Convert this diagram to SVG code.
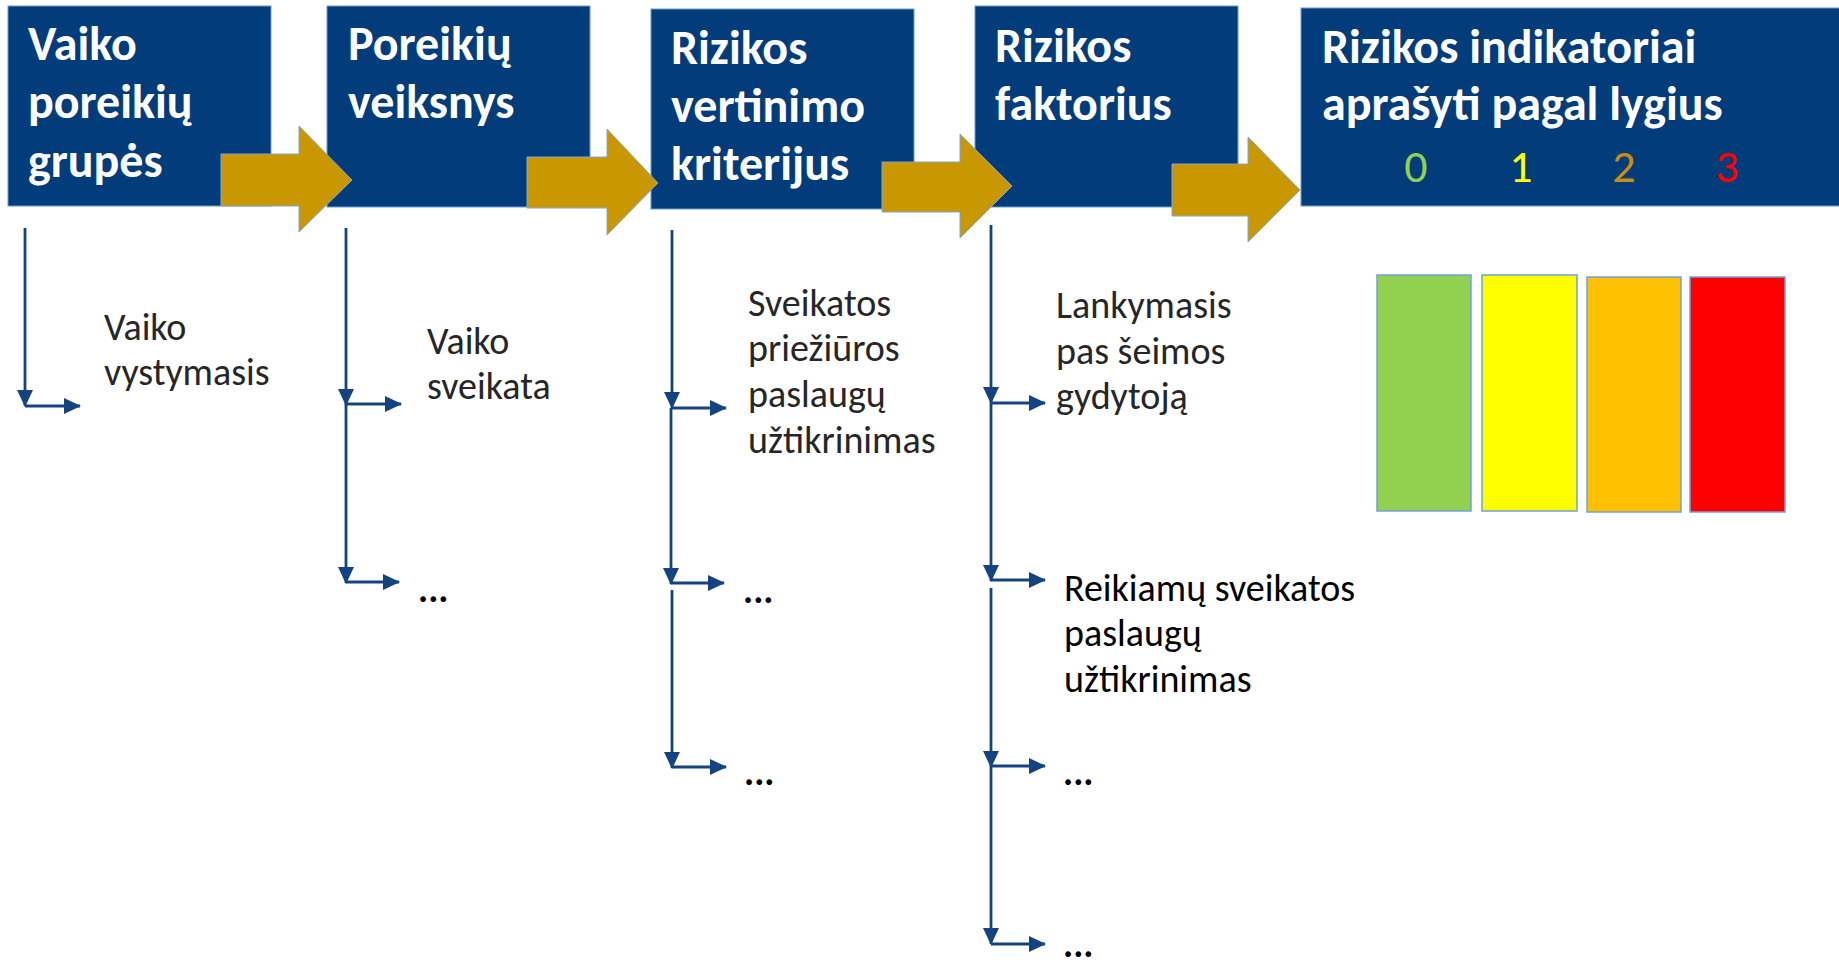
<svg xmlns="http://www.w3.org/2000/svg" width="1839" height="966" viewBox="0 0 1839 966">
<style>
.box{fill:#023C7A;stroke:#6A9AD0;stroke-width:1}
.ttl{font-family:Carlito,Lato,"Liberation Sans",sans-serif;font-weight:bold;font-size:48px;fill:#FFFFFF}
.dig{font-family:Carlito,Lato,"Liberation Sans",sans-serif;font-size:46px}
.lbl{font-family:Carlito,Lato,"Liberation Sans",sans-serif;font-weight:300;font-size:38px;fill:#262626}
.lblr{font-family:Carlito,Lato,"Liberation Sans",sans-serif;font-weight:normal;font-size:38px;fill:#000000}
.dots{font-family:Carlito,Lato,"Liberation Sans",sans-serif;font-weight:bold;font-size:38px;fill:#000000}
.blk{fill:#C99700;stroke:#7FA8D8;stroke-width:1}
.ln{fill:none;stroke:#154382;stroke-width:2.8;marker-end:url(#ah)}
.bar{stroke:#6FA3DA;stroke-width:1.5}
</style>
<defs>
<marker id="ah" markerUnits="userSpaceOnUse" markerWidth="17" markerHeight="16" refX="16" refY="8" orient="auto" viewBox="0 0 17 16">
<path d="M0,0 L17,8 L0,16 Z" fill="#154382"/>
</marker>
</defs>
<rect width="1839" height="966" fill="#FFFFFF"/>

<g id="node-vaiko-poreikiu-grupes">
<rect class="box" x="8" y="6" width="263" height="200"/>
<text class="ttl" x="28" y="60">Vaiko</text>
<text class="ttl" x="28" y="118">poreikių</text>
<text class="ttl" x="28" y="177">grupės</text>
</g>
<g id="node-poreikiu-veiksnys">
<rect class="box" x="327" y="6" width="263" height="201"/>
<text class="ttl" x="348" y="60">Poreikių</text>
<text class="ttl" x="348" y="118">veiksnys</text>
</g>
<g id="node-rizikos-vertinimo-kriterijus">
<rect class="box" x="651" y="9" width="263" height="200"/>
<text class="ttl" x="671" y="64">Rizikos</text>
<text class="ttl" x="671" y="122">vertinimo</text>
<text class="ttl" x="671" y="180">kriterijus</text>
</g>
<g id="node-rizikos-faktorius">
<rect class="box" x="975" y="6" width="263" height="201"/>
<text class="ttl" x="995" y="62">Rizikos</text>
<text class="ttl" x="995" y="120">faktorius</text>
</g>
<g id="node-rizikos-indikatoriai">
<rect class="box" x="1301" y="8" width="545" height="198"/>
<text class="ttl" x="1322" y="63">Rizikos indikatoriai</text>
<text class="ttl" x="1322" y="120">aprašyti pagal lygius</text>
<text class="dig" x="1416" y="182" text-anchor="middle" fill="#92D050">0</text>
<text class="dig" x="1521" y="182" text-anchor="middle" fill="#FFFF00">1</text>
<text class="dig" x="1624" y="182" text-anchor="middle" fill="#C8900A">2</text>
<text class="dig" x="1727" y="182" text-anchor="middle" fill="#FF0000">3</text>
</g>

<g id="connectors">
<polygon class="blk" points="221,154 299,154 299,126 352,180 299,232 299,206 221,206"/>
<polygon class="blk" points="527,157 607,157 607,129 658,183 607,235 607,208 527,208"/>
<polygon class="blk" points="882,162 960,162 960,134 1012,186 960,238 960,212 882,212"/>
<polygon class="blk" points="1172,164 1248,164 1248,137 1300,190 1248,242 1248,216 1172,216"/>

<path class="ln" d="M25,228 V406"/>
<path class="ln" d="M25,406 H80"/>

<path class="ln" d="M346,228 V405"/>
<path class="ln" d="M346,404 H401"/>
<path class="ln" d="M346,404 V583"/>
<path class="ln" d="M346,582 H399"/>

<path class="ln" d="M672,230 V408"/>
<path class="ln" d="M672,408 H726"/>
<path class="ln" d="M671,408 V584"/>
<path class="ln" d="M671,583 H724"/>
<path class="ln" d="M672,590 V768"/>
<path class="ln" d="M672,767 H726"/>

<path class="ln" d="M991,225 V403"/>
<path class="ln" d="M991,403 H1045"/>
<path class="ln" d="M991,403 V581"/>
<path class="ln" d="M991,580 H1045"/>
<path class="ln" d="M991,588 V767"/>
<path class="ln" d="M991,766 H1045"/>
<path class="ln" d="M991,766 V944"/>
<path class="ln" d="M991,944 H1045"/>
</g>

<g id="node-vaiko-vystymasis">
<text class="lbl" x="104" y="340">Vaiko</text>
<text class="lbl" x="104" y="385">vystymasis</text>
</g>
<g id="node-vaiko-sveikata">
<text class="lbl" x="427" y="354">Vaiko</text>
<text class="lbl" x="427" y="399">sveikata</text>
</g>
<g id="node-dots-col2">
<text class="dots" x="418" y="602">...</text>
</g>
<g id="node-sveikatos-prieziuros">
<text class="lbl" x="748" y="316">Sveikatos</text>
<text class="lbl" x="748" y="361">priežiūros</text>
<text class="lbl" x="748" y="407">paslaugų</text>
<text class="lbl" x="748" y="453">užtikrinimas</text>
</g>
<g id="node-dots-col3a">
<text class="dots" x="743" y="603">...</text>
</g>
<g id="node-dots-col3b">
<text class="dots" x="744" y="785">...</text>
</g>
<g id="node-lankymasis">
<text class="lbl" x="1056" y="318">Lankymasis</text>
<text class="lbl" x="1056" y="364">pas šeimos</text>
<text class="lbl" x="1056" y="409">gydytoją</text>
</g>
<g id="node-reikiamu-sveikatos">
<text class="lblr" x="1064" y="601">Reikiamų sveikatos</text>
<text class="lblr" x="1064" y="646">paslaugų</text>
<text class="lblr" x="1064" y="692">užtikrinimas</text>
</g>
<g id="node-dots-col4a">
<text class="dots" x="1063" y="785">...</text>
</g>
<g id="node-dots-col4b">
<text class="dots" x="1063" y="957">...</text>
</g>

<g id="node-levels">
<rect class="bar" x="1377" y="275" width="94" height="236" fill="#92D050"/>
<rect class="bar" x="1482" y="275" width="95" height="236" fill="#FFFF00"/>
<rect class="bar" x="1587" y="277" width="94" height="235" fill="#FFC000"/>
<rect class="bar" x="1690" y="277" width="95" height="235" fill="#FF0000"/>
</g>
</svg>
